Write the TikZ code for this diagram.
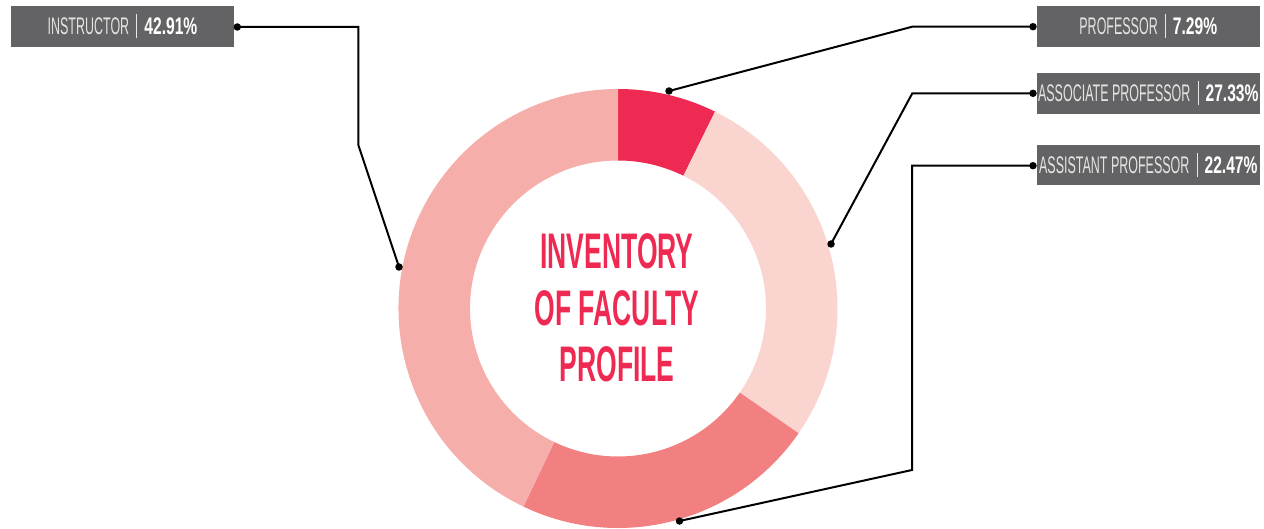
\documentclass[tikz,border=0pt]{standalone}
\usepackage{fontspec}
\setmainfont{Liberation Sans}
\newfontfamily\labfont[FakeStretch=0.52]{Liberation Sans}
\newfontfamily\pctfont[FakeStretch=0.65]{Liberation Sans}
\newfontfamily\ttlfont[FakeStretch=0.53]{Liberation Sans}
\definecolor{cProf}{HTML}{EE2A52}
\definecolor{cAssoc}{HTML}{FAD5D0}
\definecolor{cAssist}{HTML}{F38080}
\definecolor{cInstr}{HTML}{F5AEA9}
\definecolor{cBox}{HTML}{636365}
\definecolor{cLab}{HTML}{E4E4E4}
\tikzset{
  labbox/.style={fill=cBox, minimum width=223pt, minimum height=40.7pt, inner sep=0pt, text=cLab,
    font=\labfont\fontsize{24}{25}\selectfont},
  leader/.style={draw=black, line width=2pt, line join=miter},
  dotmark/.style={circle, fill=black, inner sep=0pt, minimum size=7.5pt}
}
\newcommand{\labsep}{\hspace{0.3em}{\color{cLab!85}\rule[-0.15em]{0.8pt}{1.0em}}\hspace{0.3em}}
\newcommand{\pctx}[1]{{\pctfont\bfseries\color{white}#1}}
\begin{document}
\begin{tikzpicture}[x=1pt,y=-1pt]
\useasboundingbox (0,0) rectangle (1264,529);
% donut
\begin{scope}[shift={(618,308.5)}]
  \fill[cProf]   (-90:219.5) arc[start angle=-90, end angle=-63.76, radius=219.5] -- (-63.76:148) arc[start angle=-63.76, end angle=-90, radius=148] -- cycle;
  \fill[cAssoc]  (-63.76:219.5) arc[start angle=-63.76, end angle=34.63, radius=219.5] -- (34.63:148) arc[start angle=34.63, end angle=-63.76, radius=148] -- cycle;
  \fill[cAssist] (34.63:219.5) arc[start angle=34.63, end angle=115.52, radius=219.5] -- (115.52:148) arc[start angle=115.52, end angle=34.63, radius=148] -- cycle;
  \fill[cInstr]  (115.52:219.5) arc[start angle=115.52, end angle=270, radius=219.5] -- (270:148) arc[start angle=270, end angle=115.52, radius=148] -- cycle;
\end{scope}
% title
\node[text=cProf, align=center, font=\ttlfont\bfseries\fontsize{50}{56.7}\selectfont] (title) at (617,308) {INVENTORY\\OF FACULTY\\PROFILE};
% label boxes
\node[labbox] (instr)  at (122.5,26.3)  {INSTRUCTOR\labsep\pctx{42.91\%}};
\node[labbox] (prof)   at (1148.3,26.3) {PROFESSOR\labsep\pctx{7.29\%}};
\node[labbox] (assoc)  at (1148.3,93.3) {ASSOCIATE PROFESSOR\labsep\pctx{27.33\%}};
\node[labbox] (assist) at (1148.3,165)  {ASSISTANT PROFESSOR\labsep\pctx{22.47\%}};
% leader points
\node[dotmark] (dInstrBox)  at (237.3,27) {};
\node[dotmark] (dInstrRing) at (399,267) {};
\node[dotmark] (dProfBox)   at (1033,26.7) {};
\node[dotmark] (dProfRing)  at (669,91) {};
\node[dotmark] (dAssocBox)  at (1033,93.3) {};
\node[dotmark] (dAssocRing) at (831,244) {};
\node[dotmark] (dAssistBox) at (1033,165.7) {};
\node[dotmark] (dAssistRing) at (679.5,521) {};
\coordinate (bInstrA) at (358.3,27);
\coordinate (bInstrB) at (358.3,145);
\coordinate (bProf)   at (912.3,26.7);
\coordinate (bAssoc)  at (912.3,93.3);
\coordinate (bAssistA) at (912,165.7);
\coordinate (bAssistB) at (912,470);
% leaders
\draw[leader] (dInstrBox.center) -- (bInstrA) -- (bInstrB) -- (dInstrRing.center);
\draw[leader] (dProfBox.center) -- (bProf) -- (dProfRing.center);
\draw[leader] (dAssocBox.center) -- (bAssoc) -- (dAssocRing.center);
\draw[leader] (dAssistBox.center) -- (bAssistA) -- (bAssistB) -- (dAssistRing.center);
\end{tikzpicture}
\end{document}
